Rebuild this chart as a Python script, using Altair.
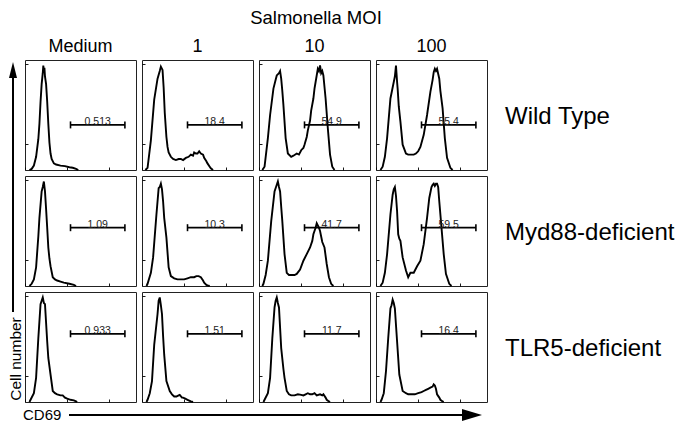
import altair as alt
import pandas as pd

FONT = "Liberation Sans"

STRAINS = ["Wild Type", "Myd88-deficient", "TLR5-deficient"]
MOIS = ["Medium", "1", "10", "100"]
TITLE = "Salmonella MOI"

# Histogram traces: x = CD69 position (% of axis), y = cell number (% of panel max)
WT_MED_X = [4, 6, 8, 10, 12, 13, 14, 15, 16, 16.5, 17, 17.5, 18, 19, 20, 21, 22, 23, 24, 26, 28, 32, 36, 40, 43, 46, 48]
WT_MED_Y = [0, 1, 4, 12, 28, 42, 62, 78, 88, 95, 90, 93, 85, 78, 62, 42, 25, 15, 10, 6, 5, 4, 3.5, 2.5, 2, 1, 0]

WT_1_X = [3, 5, 8, 11, 14, 16, 17, 18.5, 19.5, 20.5, 22, 23, 24, 26, 28, 30.5, 33, 35, 37, 39.5, 42, 44, 46, 47, 48.5, 50, 51.5, 53, 55, 56, 58, 59, 61, 62, 64]
WT_1_Y = [0, 2, 27, 64, 83, 90, 94, 91, 75, 52, 30, 21, 16, 12, 10, 9, 10, 10, 9, 11, 12, 14, 13, 16, 15, 15, 17, 15, 14, 11, 8, 6, 3, 1.5, 0]

WT_10_X = [3, 5, 8, 10, 13, 15, 16, 18, 19, 20, 21, 22, 24, 26, 29, 31, 34, 36, 38, 40, 41, 43, 44, 46, 47, 49, 50, 51, 53, 54, 55, 56, 57, 58, 60, 62, 64, 66, 68]
WT_10_Y = [0, 3, 29, 50, 74, 82, 86, 88, 90, 83, 72, 59, 29, 15, 12, 13, 15, 14, 18, 20, 23, 30, 36, 45, 54, 65, 74, 80, 92, 90, 95, 88, 90, 86, 65, 38, 14, 3, 0]

WT_100_X = [4, 6, 8, 10, 13, 16, 17, 18, 19, 19.5, 20.5, 22, 24, 27, 29, 31, 34, 36, 38, 40, 43, 46, 49, 51, 52, 53, 54, 55, 57, 58, 60, 62, 64, 67, 69]
WT_100_Y = [0, 3, 12, 29, 65, 80, 85, 95, 80, 74, 58, 44, 23, 15, 14, 14, 14, 15, 17, 21, 32, 50, 71, 82, 89, 92, 90, 92, 83, 72, 56, 29, 11, 2, 0]

MY_MED_X = [4, 6, 8, 10, 12, 13, 15, 16, 17, 18, 19, 20, 21, 22, 23, 25, 27, 29, 32, 35, 40, 44, 46]
MY_MED_Y = [0, 2, 6, 17, 45, 62, 86, 90, 95, 86, 70, 53, 35, 25, 18, 8, 6, 5, 4, 3, 2, 1, 0]

MY_1_X = [4, 5, 8, 10, 13, 15, 16, 17, 18, 19, 20, 22, 24, 26, 29, 32, 35, 38, 41, 44, 47, 49, 51, 53, 55, 56, 58, 59, 61]
MY_1_Y = [0, 2, 12, 26, 65, 89, 90, 93, 88, 77, 62, 44, 17, 9, 7, 6, 6, 6, 7, 8, 8, 9, 9, 8, 5, 3, 1, 0.5, 0]

MY_10_X = [3, 4, 6, 8, 11, 14, 16, 17, 18, 19, 20, 21, 23, 25, 27, 29, 32, 34, 37, 40, 43, 46, 48, 49, 51, 52, 53, 54, 55, 56, 57, 59, 61, 63, 65, 67]
MY_10_Y = [0, 2, 10, 23, 59, 86, 92, 95, 90, 86, 72, 59, 29, 12, 10, 10, 10, 11, 15, 23, 29, 35, 41, 47, 53, 57, 55, 53, 50, 45, 40, 35, 20, 8, 2, 0]

MY_100_X = [4, 6, 8, 10, 13, 15, 16, 17, 18, 19, 20, 21, 22, 24, 27, 29, 31, 34, 37, 40, 43, 46, 48, 50, 51, 52, 53, 54, 55, 56, 57, 59, 61, 63, 66, 68]
MY_100_Y = [0, 3, 12, 29, 65, 83, 88, 90, 82, 68, 47, 43, 41, 26, 14, 8, 12, 12, 18, 23, 38, 62, 80, 90, 92, 93, 91, 93, 93, 90, 77, 53, 29, 11, 2, 0]

TL_MED_X = [4, 5, 8, 10, 12, 14, 15, 16, 17, 18, 20, 21, 23, 25, 27, 29, 32, 34, 36, 38, 41, 44, 46, 47]
TL_MED_Y = [0, 2, 8, 22, 58, 89, 92, 95, 90, 89, 55, 40, 25, 10, 8, 7, 6, 6, 4, 3, 2, 1.5, 0.5, 0]

TL_1_X = [4, 5, 7, 9, 11, 14, 15, 16, 17, 18, 19, 20, 22, 25, 27, 29, 31, 33, 34, 36, 37, 39, 41, 43, 44, 46]
TL_1_Y = [0, 2, 8, 19, 52, 80, 92, 95, 88, 80, 60, 43, 19, 10, 7, 5, 5, 6, 6.5, 4, 4, 3, 2, 1, 0.5, 0]

TL_10_X = [4, 5, 8, 10, 12, 14, 15, 16, 17, 18, 20, 22, 23, 25, 27, 29, 32, 35, 38, 40, 42, 44, 46, 48, 50, 52, 55, 57, 58, 60, 61, 63, 64]
TL_10_Y = [0, 2, 8, 22, 58, 86, 92, 95, 90, 86, 49, 30, 22, 10, 7, 6, 6, 7, 6.5, 6, 7, 8, 7, 7, 8, 6, 7, 6, 7, 4, 2, 0.5, 0]

TL_100_X = [4, 5, 7, 9, 11, 13, 14, 15, 16, 17, 18, 19, 21, 24, 27, 29, 32, 35, 38, 41, 43, 45, 47, 49, 51, 52, 53, 54, 55, 57, 58, 60, 61]
TL_100_Y = [0, 2, 8, 28, 58, 85, 88, 93, 90, 85, 70, 55, 25, 10, 8, 7, 7, 7, 8, 9, 10, 11, 12, 13, 14, 16, 15, 12, 7, 4, 2, 0.5, 0]

CURVES = {
    ("Wild Type", "Medium"): (WT_MED_X, WT_MED_Y),
    ("Wild Type", "1"): (WT_1_X, WT_1_Y),
    ("Wild Type", "10"): (WT_10_X, WT_10_Y),
    ("Wild Type", "100"): (WT_100_X, WT_100_Y),
    ("Myd88-deficient", "Medium"): (MY_MED_X, MY_MED_Y),
    ("Myd88-deficient", "1"): (MY_1_X, MY_1_Y),
    ("Myd88-deficient", "10"): (MY_10_X, MY_10_Y),
    ("Myd88-deficient", "100"): (MY_100_X, MY_100_Y),
    ("TLR5-deficient", "Medium"): (TL_MED_X, TL_MED_Y),
    ("TLR5-deficient", "1"): (TL_1_X, TL_1_Y),
    ("TLR5-deficient", "10"): (TL_10_X, TL_10_Y),
    ("TLR5-deficient", "100"): (TL_100_X, TL_100_Y),
}

# Gate (CD69+ region) and percentages
GATE_LO = 41
GATE_HI = 90
GATE_Y = {"Wild Type": 41, "Myd88-deficient": 53, "TLR5-deficient": 62}
GATE_LABELS = {
    "Wild Type": ["0.513", "18.4", "54.9", "55.4"],
    "Myd88-deficient": ["1.09", "10.3", "41.7", "59.5"],
    "TLR5-deficient": ["0.933", "1.51", "11.7", "16.4"],
}

# axis tick positions (log decades on CD69 axis)
X_TICKS = [0, 6, 9.5, 12, 14, 15.6, 16.9, 18.1, 19.1,
           20, 26, 29.5, 32, 34, 35.6, 36.9, 38.1, 39.1,
           40, 46, 49.5, 52, 54, 55.6, 56.9, 58.1, 59.1,
           60, 66, 69.5, 72, 74, 75.6, 76.9, 78.1, 79.1,
           80, 86, 89.5, 92, 94, 95.6, 96.9, 98.1, 99.1]
Y_TICKS = [24, 48, 72, 96]

rows = []
for (strain, moi), (xs, ys) in CURVES.items():
    for xv, yv in zip(xs, ys):
        rows.append(dict(kind="curve", strain=strain, moi=moi, x=xv, y=yv))
for strain in STRAINS:
    for moi, lab in zip(MOIS, GATE_LABELS[strain]):
        rows.append(dict(kind="gate", strain=strain, moi=moi, x=GATE_LO, x2=GATE_HI,
                         xm=(GATE_LO + GATE_HI) / 2, y=GATE_Y[strain], label=lab))
rows.append(dict(kind="deco", strain="TLR5-deficient", moi="Medium"))
rows.append(dict(kind="title", strain="Wild Type", moi="10", label=TITLE))
df = pd.DataFrame(rows)

W, H = 111, 110

line = alt.Chart().mark_line(color="black", strokeWidth=1.9).encode(
    x=alt.X("x:Q", scale=alt.Scale(domain=[0, 100]),
            axis=alt.Axis(values=X_TICKS, labels=False, title=None, domain=False, grid=False,
                          tickSize=3, offset=-3, tickColor="black", tickWidth=0.9)),
    y=alt.Y("y:Q", scale=alt.Scale(domain=[0, 100]),
            axis=alt.Axis(values=Y_TICKS, labels=False, title=None, domain=False, grid=False,
                          tickSize=3, offset=-3, tickColor="black", tickWidth=0.9)),
).transform_filter(alt.datum.kind == "curve")

gate_f = alt.datum.kind == "gate"
gate = alt.Chart().mark_rule(color="black", strokeWidth=1.8).encode(
    x="x:Q", x2="x2:Q", y="y:Q"
).transform_filter(gate_f)

cap_l = alt.Chart().mark_tick(orient="vertical", color="black", size=7, thickness=1.6, opacity=1).encode(
    x="x:Q", y="y:Q"
).transform_filter(gate_f)

cap_r = alt.Chart().mark_tick(orient="vertical", color="black", size=7, thickness=1.6, opacity=1).encode(
    x="x2:Q", y="y:Q"
).transform_filter(gate_f)

lab = alt.Chart().mark_text(font=FONT, fontSize=10.5, color="#222222", baseline="alphabetic", dy=0).encode(
    x="xm:Q", y="y:Q", text="label:N"
).transform_filter(gate_f)

# row labels at right of the last column
row_lab = alt.Chart().mark_text(font=FONT, fontSize=24, color="black", align="left",
                                baseline="middle").encode(
    x=alt.value(W + 18), y=alt.value(H / 2 + 2), text="strain:N"
).transform_filter(gate_f & (alt.datum.moi == "100"))

title = alt.Chart().mark_text(font=FONT, fontSize=18.5, color="black", align="center",
                              baseline="alphabetic").encode(
    x=alt.value(57), y=alt.value(-36), text="label:N"
).transform_filter(alt.datum.kind == "title")

deco_f = alt.datum.kind == "deco"
y_line = alt.Chart().mark_rule(color="black", strokeWidth=2).encode(
    x=alt.value(-12), y=alt.value(-216), y2=alt.value(20)
).transform_filter(deco_f)
y_head = alt.Chart().mark_point(shape="M0,-1L0.5,1L-0.5,1Z", filled=True, size=256, color="black",
                                opacity=1, strokeWidth=0).encode(
    x=alt.value(-12), y=alt.value(-222)
).transform_filter(deco_f)
y_text = alt.Chart().mark_text(font=FONT, fontSize=15.5, angle=270, baseline="alphabetic", align="center",
                               color="black").encode(
    x=alt.value(-4), y=alt.value(67), text=alt.value("Cell number")
).transform_filter(deco_f)
x_line = alt.Chart().mark_rule(color="black", strokeWidth=2).encode(
    x=alt.value(44), x2=alt.value(440), y=alt.value(123)
).transform_filter(deco_f)
x_head = alt.Chart().mark_point(shape="M1,0L-1,-0.6L-1,0.6Z", filled=True, size=400, color="black",
                                opacity=1, strokeWidth=0).encode(
    x=alt.value(447), y=alt.value(123)
).transform_filter(deco_f)
x_text = alt.Chart().mark_text(font=FONT, fontSize=15, baseline="alphabetic", align="left",
                               color="black").encode(
    x=alt.value(-2), y=alt.value(128), text=alt.value("CD69")
).transform_filter(deco_f)

cell = alt.layer(line, gate, cap_l, cap_r, lab, row_lab, title,
                 y_line, y_head, y_text, x_line, x_head, x_text).properties(width=W, height=H)

chart = cell.facet(
    data=df,
    row=alt.Row("strain:N", sort=STRAINS, title=None, header=alt.Header(labels=False)),
    column=alt.Column("moi:N", sort=MOIS, title=None,
                      header=alt.Header(labelOrient="top", labelFontSize=18, labelFont=FONT,
                                        labelPadding=4, labelColor="black")),
    spacing=6,
).resolve_scale(x="independent", y="independent").properties(
    bounds="flush",
    padding=0,
).configure_view(stroke="#222222", strokeWidth=1)

chart.save("out.html", embed_options={"renderer": "svg", "actions": False})
